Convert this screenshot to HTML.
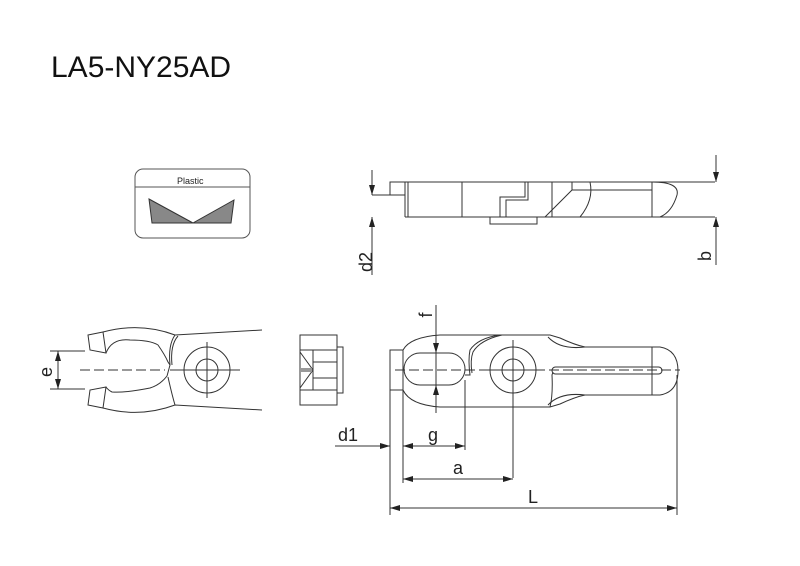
<!DOCTYPE html>
<html><head><style>body{margin:0;background:#fff}svg{display:block}</style></head><body>
<svg width="800" height="566" viewBox="0 0 800 566" xmlns="http://www.w3.org/2000/svg" font-family="Liberation Sans, sans-serif">
<defs><marker id="ar" viewBox="0 0 10 6" refX="10" refY="3" markerWidth="10" markerHeight="6" orient="auto-start-reverse" markerUnits="userSpaceOnUse"><path d="M0,0 L10,3 L0,6z" fill="#222"/></marker></defs>
<text x="51" y="77" font-size="30" fill="#111">LA5-NY25AD</text>
<g fill="none" stroke="#333" stroke-width="1">
<rect x="135" y="169" width="115" height="69" rx="8" stroke="#555"/>
<line x1="135" y1="187" x2="250" y2="187" stroke="#555"/>
<polygon points="149,199 193,223 152,223" fill="#888"/>
<polygon points="234,200 231,223 193,223" fill="#888"/>
<rect x="390" y="182" width="15" height="13"/>
<line x1="405" y1="182" x2="715" y2="182"/>
<line x1="405" y1="217" x2="715" y2="217"/>
<line x1="405" y1="195" x2="405" y2="217"/>
<line x1="408" y1="182" x2="408" y2="217"/>
<line x1="462" y1="182" x2="462" y2="217"/>
<polyline points="525,182 525,197 500,197 500,217"/>
<polyline points="528,182 528,200 506,200 506,217"/>
<rect x="490" y="217" width="47" height="7"/>
<line x1="552" y1="182" x2="552" y2="217"/>
<polyline points="572,182 572,190 545,217"/>
<path d="M590,182 Q594,200 580,217"/>
<line x1="572" y1="190" x2="652" y2="190"/>
<line x1="652" y1="182" x2="652" y2="217"/>
<path d="M652,182 Q680,182 677,195 Q672,212 660,217"/>
<line x1="372" y1="195" x2="390" y2="195"/>
<line x1="372" y1="170" x2="372" y2="195" marker-end="url(#ar)"/>
<line x1="372" y1="275" x2="372" y2="217" marker-end="url(#ar)"/>
<line x1="716" y1="155" x2="716" y2="182" marker-end="url(#ar)"/>
<line x1="716" y1="265" x2="716" y2="217" marker-end="url(#ar)"/>
<path d="M88,335 L103,332 L106,353 L90,350Z"/>
<path d="M88,405 L103,408 L106,387 L90,390Z"/>
<path d="M103,332 Q140,322 175,335 L262,330"/>
<path d="M103,408 Q140,418 175,405 L262,410"/>
<path d="M106,353 Q112,338 130,340 Q150,340 158,345 Q165,355 168,362 L170,365 L167,376 Q160,385 150,388 Q125,393 112,392 Q108,390 106,387"/>
<path d="M175,335 Q168,345 170,365"/><path d="M178,336 Q170,345 172,365"/>
<path d="M168,377 Q172,395 175,405"/>
<circle cx="207" cy="370" r="23"/><circle cx="207" cy="370" r="11"/>
<line x1="207" y1="342" x2="207" y2="398"/><line x1="170" y1="370" x2="240" y2="370"/>
<line x1="80" y1="370" x2="165" y2="370" stroke-dasharray="10,4"/>
<line x1="50" y1="351" x2="85" y2="351"/><line x1="50" y1="389" x2="85" y2="389"/>
<line x1="58" y1="351" x2="58" y2="389" marker-end="url(#ar)" marker-start="url(#ar)"/>
<rect x="300" y="335" width="37" height="70"/>
<rect x="337" y="347" width="6" height="46"/>
<line x1="300" y1="350" x2="337" y2="350"/><line x1="300" y1="390" x2="337" y2="390"/>
<line x1="313" y1="350" x2="313" y2="390"/>
<line x1="313" y1="362" x2="337" y2="362"/><line x1="313" y1="378" x2="337" y2="378"/>
<polyline points="300,352 313,370 300,388"/>
<rect x="300" y="368" width="12" height="4" fill="#999" stroke="none"/>
<rect x="390" y="350" width="13" height="40"/>
<path d="M403,350 Q410,337 440,335 L550,335 L560,338 Q575,345 585,347 L660,347 Q678,350 678,371 Q678,392 660,395 L585,395 Q575,397 560,404 L550,407 L440,407 Q410,405 403,390"/>
<rect x="404" y="353" width="61" height="32" rx="16"/>
<path d="M465,375 L470,375 Q468,360 470,350 Q478,338 500,335"/>
<path d="M472,373 Q470,360 473,352 Q480,340 502,335"/>
<path d="M550,407 Q553,395 552,375 L553,372"/>
<circle cx="513" cy="370" r="23"/><circle cx="513" cy="370" r="11"/>
<line x1="513" y1="340" x2="513" y2="478"/>
<line x1="485" y1="370" x2="540" y2="370"/>
<rect x="552" y="367" width="110" height="7" rx="3.5"/>
<line x1="652" y1="347" x2="652" y2="395"/>
<path d="M548,337 Q560,350 585,347"/><path d="M548,405 Q560,392 585,395"/>
<line x1="395" y1="370" x2="680" y2="370" stroke-dasharray="10,4"/>
<line x1="436" y1="305" x2="436" y2="413"/>
<line x1="436" y1="330" x2="436" y2="353" marker-end="url(#ar)"/>
<line x1="436" y1="408" x2="436" y2="385" marker-end="url(#ar)"/>
<line x1="390" y1="390" x2="390" y2="515"/>
<line x1="403" y1="385" x2="403" y2="483"/>
<line x1="465" y1="380" x2="465" y2="450"/>
<line x1="677" y1="375" x2="677" y2="515"/>
<line x1="335" y1="446" x2="390" y2="446" marker-end="url(#ar)"/>
<line x1="403" y1="446" x2="465" y2="446" marker-end="url(#ar)" marker-start="url(#ar)"/>
<line x1="403" y1="479" x2="513" y2="479" marker-end="url(#ar)" marker-start="url(#ar)"/>
<line x1="390" y1="508" x2="677" y2="508" marker-end="url(#ar)" marker-start="url(#ar)"/>
</g>
<g font-size="18" fill="#222">
<text x="338" y="441">d1</text>
<text x="428" y="441">g</text>
<text x="453" y="474">a</text>
<text x="528" y="503">L</text>
<text transform="translate(52,372) rotate(-90)" text-anchor="middle">e</text>
<text transform="translate(372,262) rotate(-90)" text-anchor="middle">d2</text>
<text transform="translate(711,256) rotate(-90)" text-anchor="middle">b</text>
<text transform="translate(432,315) rotate(-90)" text-anchor="middle">f</text>
</g>
<text x="177" y="184" font-size="9" fill="#222">Plastic</text>
</svg>
</body></html>
